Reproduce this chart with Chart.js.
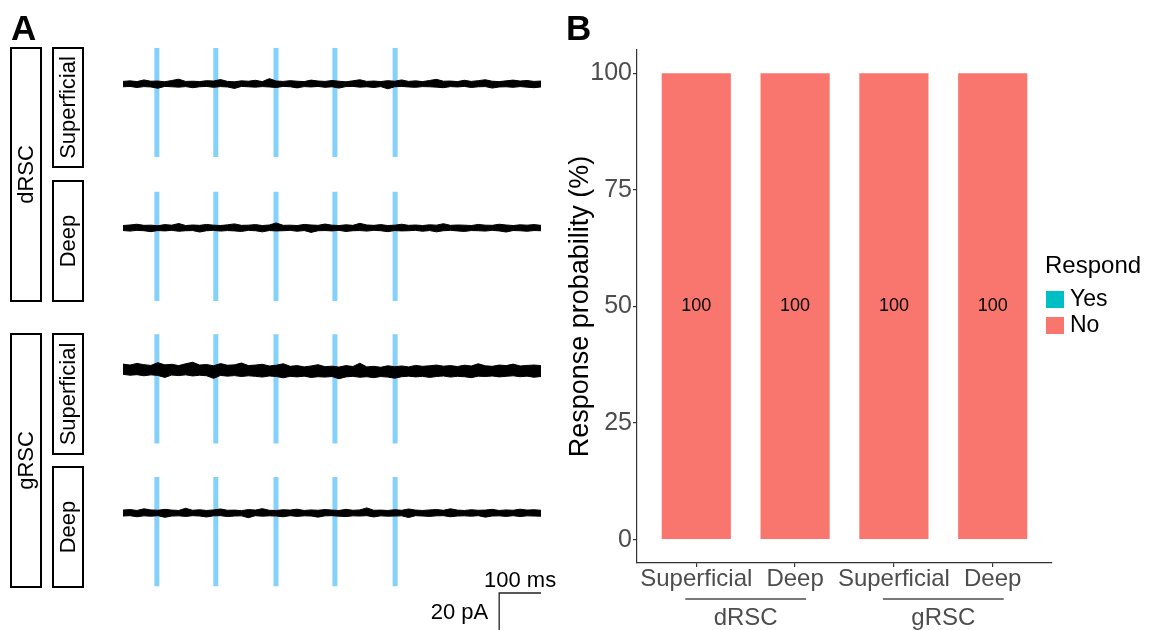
<!DOCTYPE html>
<html><head><meta charset="utf-8">
<script src="https://cdn.jsdelivr.net/npm/chart.js@4/dist/chart.umd.min.js"></script>
<style>
html,body{margin:0;padding:0;background:#fff;}
#wrap{position:relative;width:1150px;height:630px;overflow:hidden;background:#fff;}
#cA{position:absolute;left:0;top:0;}
#cB{position:absolute;left:560px;top:0;}
</style></head><body>
<div id="wrap"><canvas id="cA" width="560" height="630"></canvas><canvas id="cB" width="590" height="630"></canvas></div>
<script>
const FONT = '"Liberation Sans", Arial, Helvetica, sans-serif';

// ---------- Panel B data ----------
const categories = ['Superficial', 'Deep', 'Superficial', 'Deep'];
const groups = ['dRSC', 'gRSC'];
const groupMembers = [[0, 1], [2, 3]];
const respondLabels = ['Yes', 'No'];
const yesPct = [0, 0, 0, 0];
const noPct = [100, 100, 100, 100];
const yTicks = [0, 25, 50, 75, 100];
const respondColors = ['#00BFC4', '#F8766D'];

// ---------- Panel A data ----------
const regionLabels = ['dRSC', 'gRSC'];
const layerLabels = ['Superficial', 'Deep'];
const pulseTimesMs = [81, 222, 366, 507, 651];
const traceDurationMs = 1000;
const scaleBarMs = 100;
const scaleBarPA = 20;
// noise envelope of each recorded trace (max / min current, pA, relative to holding level), evenly binned over the trace
const drscSupMax = [1.4,1.7,1.3,2.2,1.5,1.6,1.2,1.9,2.6,1.4,
 1.5,1.3,1.8,1.6,2.4,1.4,1.2,1.7,1.5,2.0,
 1.3,2.9,1.6,1.4,1.8,1.5,1.3,2.1,1.6,1.4,
 1.9,1.5,1.2,1.7,2.3,1.4,1.6,1.3,1.8,1.5,
 2.2,1.4,1.7,1.3,1.9,2.5,1.5,1.6,1.3,2.0,
 1.4,1.8,2.3,1.5,1.3,1.7,2.1,1.6,1.9,1.4,1.6];
const drscSupMin = [-1.5,-1.3,-1.9,-1.4,-1.6,-2.3,-1.3,-1.5,-1.7,-1.4,
 -2.0,-1.5,-1.3,-1.8,-1.4,-1.6,-2.4,-1.3,-1.5,-1.7,
 -1.4,-1.6,-1.9,-1.3,-1.5,-2.1,-1.4,-1.6,-1.3,-1.8,
 -1.5,-2.2,-1.4,-1.3,-1.7,-1.5,-1.9,-1.4,-2.6,-1.5,
 -1.3,-1.6,-1.8,-1.4,-1.5,-1.7,-2.0,-1.4,-1.6,-1.3,
 -1.9,-1.5,-1.4,-2.2,-1.6,-1.5,-1.8,-1.4,-1.7,-2.0,-1.6];
const drscDeepMax = [1.3,1.6,2.0,1.4,1.5,1.2,1.8,1.5,2.4,1.3,
 1.6,1.4,1.9,1.5,1.3,1.7,2.2,1.4,1.5,1.8,
 1.3,1.6,2.7,1.4,1.5,1.3,1.9,1.6,1.4,2.1,
 1.5,1.3,1.7,1.4,2.5,1.6,1.4,1.8,1.3,1.5,
 2.0,1.4,1.6,1.3,1.7,1.5,2.3,1.4,1.6,1.5,
 1.3,1.9,1.5,1.4,2.0,1.6,1.3,1.7,1.5,1.8,1.4];
const drscDeepMin = [-1.4,-1.7,-1.3,-1.5,-2.0,-1.4,-1.6,-1.3,-1.8,-1.5,
 -1.4,-2.2,-1.5,-1.3,-1.7,-1.4,-1.6,-1.9,-1.3,-1.5,
 -2.1,-1.4,-1.6,-1.5,-1.3,-1.8,-1.4,-2.4,-1.5,-1.4,
 -1.6,-1.3,-1.9,-1.5,-1.4,-1.7,-1.3,-1.5,-2.0,-1.4,
 -1.6,-1.5,-1.3,-1.8,-1.4,-2.1,-1.5,-1.3,-1.6,-1.9,
 -1.4,-1.5,-1.7,-1.3,-1.6,-2.2,-1.4,-1.5,-1.8,-1.4,-1.5];
const grscSupMax = [3.4,2.9,3.8,3.1,2.7,4.2,3.0,3.3,2.6,3.6,
 4.4,2.9,3.2,2.5,3.7,2.8,3.0,4.0,2.6,2.9,
 3.3,2.4,2.8,3.6,2.2,2.6,1.9,2.4,3.1,2.0,
 2.3,1.8,2.6,2.1,3.9,1.9,2.2,1.7,2.5,2.0,
 2.4,1.9,2.7,2.2,2.5,2.9,2.3,2.6,2.1,2.8,
 2.4,3.6,2.5,2.2,2.9,2.6,3.4,2.4,2.7,2.9,2.6];
const grscSupMin = [-2.1,-2.6,-2.3,-2.9,-2.4,-2.7,-3.8,-2.5,-2.8,-2.4,
 -3.0,-2.6,-2.9,-4.3,-2.7,-3.1,-2.8,-3.3,-2.9,-3.2,
 -3.6,-3.0,-3.3,-4.0,-3.2,-3.5,-3.1,-3.8,-3.4,-3.6,
 -3.3,-4.5,-3.5,-3.2,-3.7,-3.4,-3.9,-3.3,-3.6,-4.2,
 -3.4,-3.1,-3.5,-3.2,-3.8,-3.3,-3.0,-3.6,-3.2,-3.4,
 -3.9,-3.1,-3.3,-3.0,-3.5,-3.2,-2.9,-3.4,-3.1,-3.7,-3.3];
const grscDeepMax = [1.6,1.9,1.4,2.3,1.7,1.5,2.0,1.6,1.4,2.6,
 1.5,1.8,1.4,1.7,2.2,1.5,1.6,1.3,1.9,1.6,
 2.4,1.5,1.4,1.8,1.6,2.1,1.4,1.7,1.5,1.9,
 1.6,1.4,2.0,1.5,1.7,2.8,1.5,1.6,1.4,1.8,
 1.5,2.2,1.6,1.4,1.7,1.9,1.5,2.3,1.6,1.4,
 1.8,1.5,1.6,2.0,1.4,1.7,1.5,2.1,1.6,1.8,1.5];
const grscDeepMin = [-1.6,-1.4,-2.0,-1.5,-1.7,-1.4,-2.3,-1.6,-1.5,-1.8,
 -1.4,-1.6,-2.1,-1.5,-1.4,-1.9,-1.6,-1.5,-2.5,-1.4,
 -1.7,-1.5,-1.6,-2.0,-1.4,-1.8,-1.5,-1.6,-2.2,-1.5,
 -1.4,-1.7,-1.9,-1.5,-1.6,-1.4,-2.1,-1.5,-1.7,-1.6,
 -1.5,-2.4,-1.4,-1.6,-1.8,-1.5,-1.4,-2.0,-1.6,-1.5,
 -1.7,-1.4,-2.2,-1.6,-1.5,-1.8,-1.4,-1.9,-1.5,-1.6,-1.7];

// ---------- Panel A layout (display only) ----------
const traceEnvelopes = [[drscSupMax, drscSupMin], [drscDeepMax, drscDeepMin], [grscSupMax, grscSupMin], [grscDeepMax, grscDeepMin]];
const traceOffsetsPA = [295.1, 217.3, 140.3, 63.2];
const pulseAbovePA = 19.5, pulseBelowPA = 39.5;
const scaleBarStartMs = 900;
const regionBoxes = [{x:11,y:48,w:30,h:253},{x:11,y:334,w:30,h:253}];
const layerBoxes = [{x:53,y:48,w:30,h:119},{x:53,y:181,w:30,h:120},{x:53,y:334,w:30,h:120},{x:53,y:467,w:30,h:120}];

function rotText(ctx, txt, cx, cy) {
  ctx.save(); ctx.translate(cx, cy); ctx.rotate(-Math.PI/2);
  ctx.textAlign='center'; ctx.textBaseline='middle'; ctx.fillText(txt, 0, 0); ctx.restore();
}

const panelAPlugin = {
  id:'panelA',
  afterDraw(chart){
    const ctx = chart.ctx, xs = chart.scales.x, ys = chart.scales.y;
    ctx.save();
    ctx.strokeStyle='#000'; ctx.lineWidth=2; ctx.fillStyle='#000';
    ctx.font = '22px ' + FONT;
    regionBoxes.forEach((b,i)=>{
      ctx.strokeRect(b.x, b.y, b.w, b.h);
      rotText(ctx, regionLabels[i], b.x + b.w/2 + 1, b.y + b.h/2);
    });
    layerBoxes.forEach((b,i)=>{
      ctx.strokeRect(b.x, b.y, b.w, b.h);
      rotText(ctx, layerLabels[i % 2], b.x + b.w/2 + 1, b.y + b.h/2);
    });
    ctx.font = 'bold 35px ' + FONT;
    ctx.textAlign='left'; ctx.textBaseline='alphabetic';
    ctx.fillText('A', 11, 40);
    ctx.font = '22px ' + FONT;
    ctx.textAlign='center'; ctx.textBaseline='middle';
    ctx.fillText(scaleBarMs + ' ms', xs.getPixelForValue(scaleBarStartMs + scaleBarMs/2), ys.getPixelForValue(scaleBarPA) - 12);
    ctx.textAlign='right';
    ctx.fillText(scaleBarPA + ' pA', xs.getPixelForValue(scaleBarStartMs) - 11, ys.getPixelForValue(scaleBarPA/2) + 1);
    ctx.restore();
  }
};

const aDatasets = [];
traceEnvelopes.forEach(([hi, lo], k)=>{
  const tAt = (i, n) => i * traceDurationMs / (n - 1);
  aDatasets.push({
    data: hi.map((v,i)=>({x: tAt(i, hi.length), y: traceOffsetsPA[k] + v})),
    borderColor:'#000', borderWidth:1, pointRadius:0, tension:0, fill:false, order:0
  });
  aDatasets.push({
    data: lo.map((v,i)=>({x: tAt(i, lo.length), y: traceOffsetsPA[k] + v})),
    borderColor:'#000', borderWidth:1, pointRadius:0, tension:0, fill:'-1', backgroundColor:'#000', order:0
  });
});
traceEnvelopes.forEach((_, k)=>{
  aDatasets.push({
    data: pulseTimesMs.flatMap(t=>[{x:t,y:traceOffsetsPA[k]+pulseAbovePA},{x:t,y:traceOffsetsPA[k]-pulseBelowPA},{x:t,y:null}]),
    borderColor:'#84d2fb', borderWidth:5, borderCapStyle:'butt', pointRadius:0, spanGaps:false, fill:false, order:2
  });
});
aDatasets.push({
  data:[{x:scaleBarStartMs+scaleBarMs,y:scaleBarPA},{x:scaleBarStartMs,y:scaleBarPA},{x:scaleBarStartMs,y:0}],
  borderColor:'#222', borderWidth:1.3, pointRadius:0, fill:false, order:1
});

new Chart(document.getElementById('cA'), {
  type:'line',
  data:{datasets:aDatasets},
  options:{
    responsive:false, animation:false, devicePixelRatio:1,
    layout:{padding:0},
    plugins:{legend:{display:false}, tooltip:{enabled:false}},
    scales:{
      x:{type:'linear', display:false, min:-294.3, max:1045.5},
      y:{type:'linear', display:false, min:0, max:340.5}
    }
  },
  plugins:[panelAPlugin]
});

// ---------- Panel B ----------
const panelBPlugin = {
  id:'panelB',
  afterDraw(chart){
    const ctx = chart.ctx, xs = chart.scales.x, ys = chart.scales.y;
    ctx.save();
    ctx.fillStyle='#000'; ctx.font='18px ' + FONT; ctx.textAlign='center'; ctx.textBaseline='middle';
    categories.forEach((c,i)=>{
      if (noPct[i] > 0) ctx.fillText(String(noPct[i]), xs.getPixelForValue(i+1), ys.getPixelForValue(yesPct[i] + noPct[i]/2));
      if (yesPct[i] > 0) ctx.fillText(String(yesPct[i]), xs.getPixelForValue(i+1), ys.getPixelForValue(yesPct[i]/2));
    });
    ctx.strokeStyle='#4d4d4d'; ctx.lineWidth=1.3; ctx.fillStyle='#4d4d4d'; ctx.font='24px ' + FONT;
    groups.forEach((g,j)=>{
      const a = xs.getPixelForValue(groupMembers[j][0]+1) - 11;
      const b = xs.getPixelForValue(groupMembers[j][1]+1) + 11;
      ctx.beginPath(); ctx.moveTo(a, 599); ctx.lineTo(b, 599); ctx.stroke();
      ctx.fillText(g, (a+b)/2, 618);
    });
    ctx.fillStyle='#000'; ctx.textAlign='left'; ctx.textBaseline='middle';
    ctx.font='24px ' + FONT;
    ctx.fillText('Respond', 485, 266);
    ctx.font='23px ' + FONT;
    respondLabels.forEach((l,i)=>{
      ctx.fillStyle = respondColors[i];
      ctx.fillRect(486, 291 + i*26, 18, 17);
      ctx.fillStyle='#000';
      ctx.fillText(l, 510, 300 + i*26);
    });
    ctx.font='bold 35px ' + FONT; ctx.textBaseline='alphabetic';
    ctx.fillText('B', 6, 40);
    ctx.restore();
  }
};

new Chart(document.getElementById('cB'), {
  type:'bar',
  data:{datasets:[
    {label:respondLabels[0], data: yesPct.map((v,i)=>({x:i+1,y:v})), backgroundColor:respondColors[0], borderWidth:0},
    {label:respondLabels[1], data: noPct.map((v,i)=>({x:i+1,y:v})), backgroundColor:respondColors[1], borderWidth:0}
  ]},
  options:{
    responsive:false, animation:false, devicePixelRatio:1,
    layout:{padding:{top:50,right:98,left:0,bottom:0}},
    plugins:{legend:{display:false}, tooltip:{enabled:false}},
    datasets:{bar:{barPercentage:0.7, categoryPercentage:1}},
    scales:{
      x:{type:'linear', stacked:true, min:0.4, max:4.6, offset:false,
        afterBuildTicks: s => { s.ticks = categories.map((c,i)=>({value:i+1})); },
        afterFit: s => { s.height = 67; },
        ticks:{callback: v => categories[v-1] ?? '', color:'#4d4d4d', font:{family:FONT, size:24, lineHeight:1}, padding:0, maxRotation:0, autoSkip:false},
        grid:{offset:false, drawOnChartArea:false, drawTicks:true, tickLength:4, color:'#333', lineWidth:1.2},
        border:{display:true, color:'#333', width:1.2}
      },
      y:{type:'linear', stacked:true, min:-5, max:105,
        afterBuildTicks: s => { s.ticks = yTicks.map(v=>({value:v})); },
        afterFit: s => { s.width = 77; },
        ticks:{color:'#4d4d4d', font:{family:FONT, size:25}, padding:1},
        grid:{drawOnChartArea:false, drawTicks:true, tickLength:4, color:'#333', lineWidth:1.2},
        border:{display:true, color:'#333', width:1.2},
        title:{display:true, text:'Response probability (%)', color:'#000', font:{family:FONT, size:27, lineHeight:1.2}, padding:{top:4, bottom:0}}
      }
    }
  },
  plugins:[panelBPlugin]
});
</script>
</body></html>
